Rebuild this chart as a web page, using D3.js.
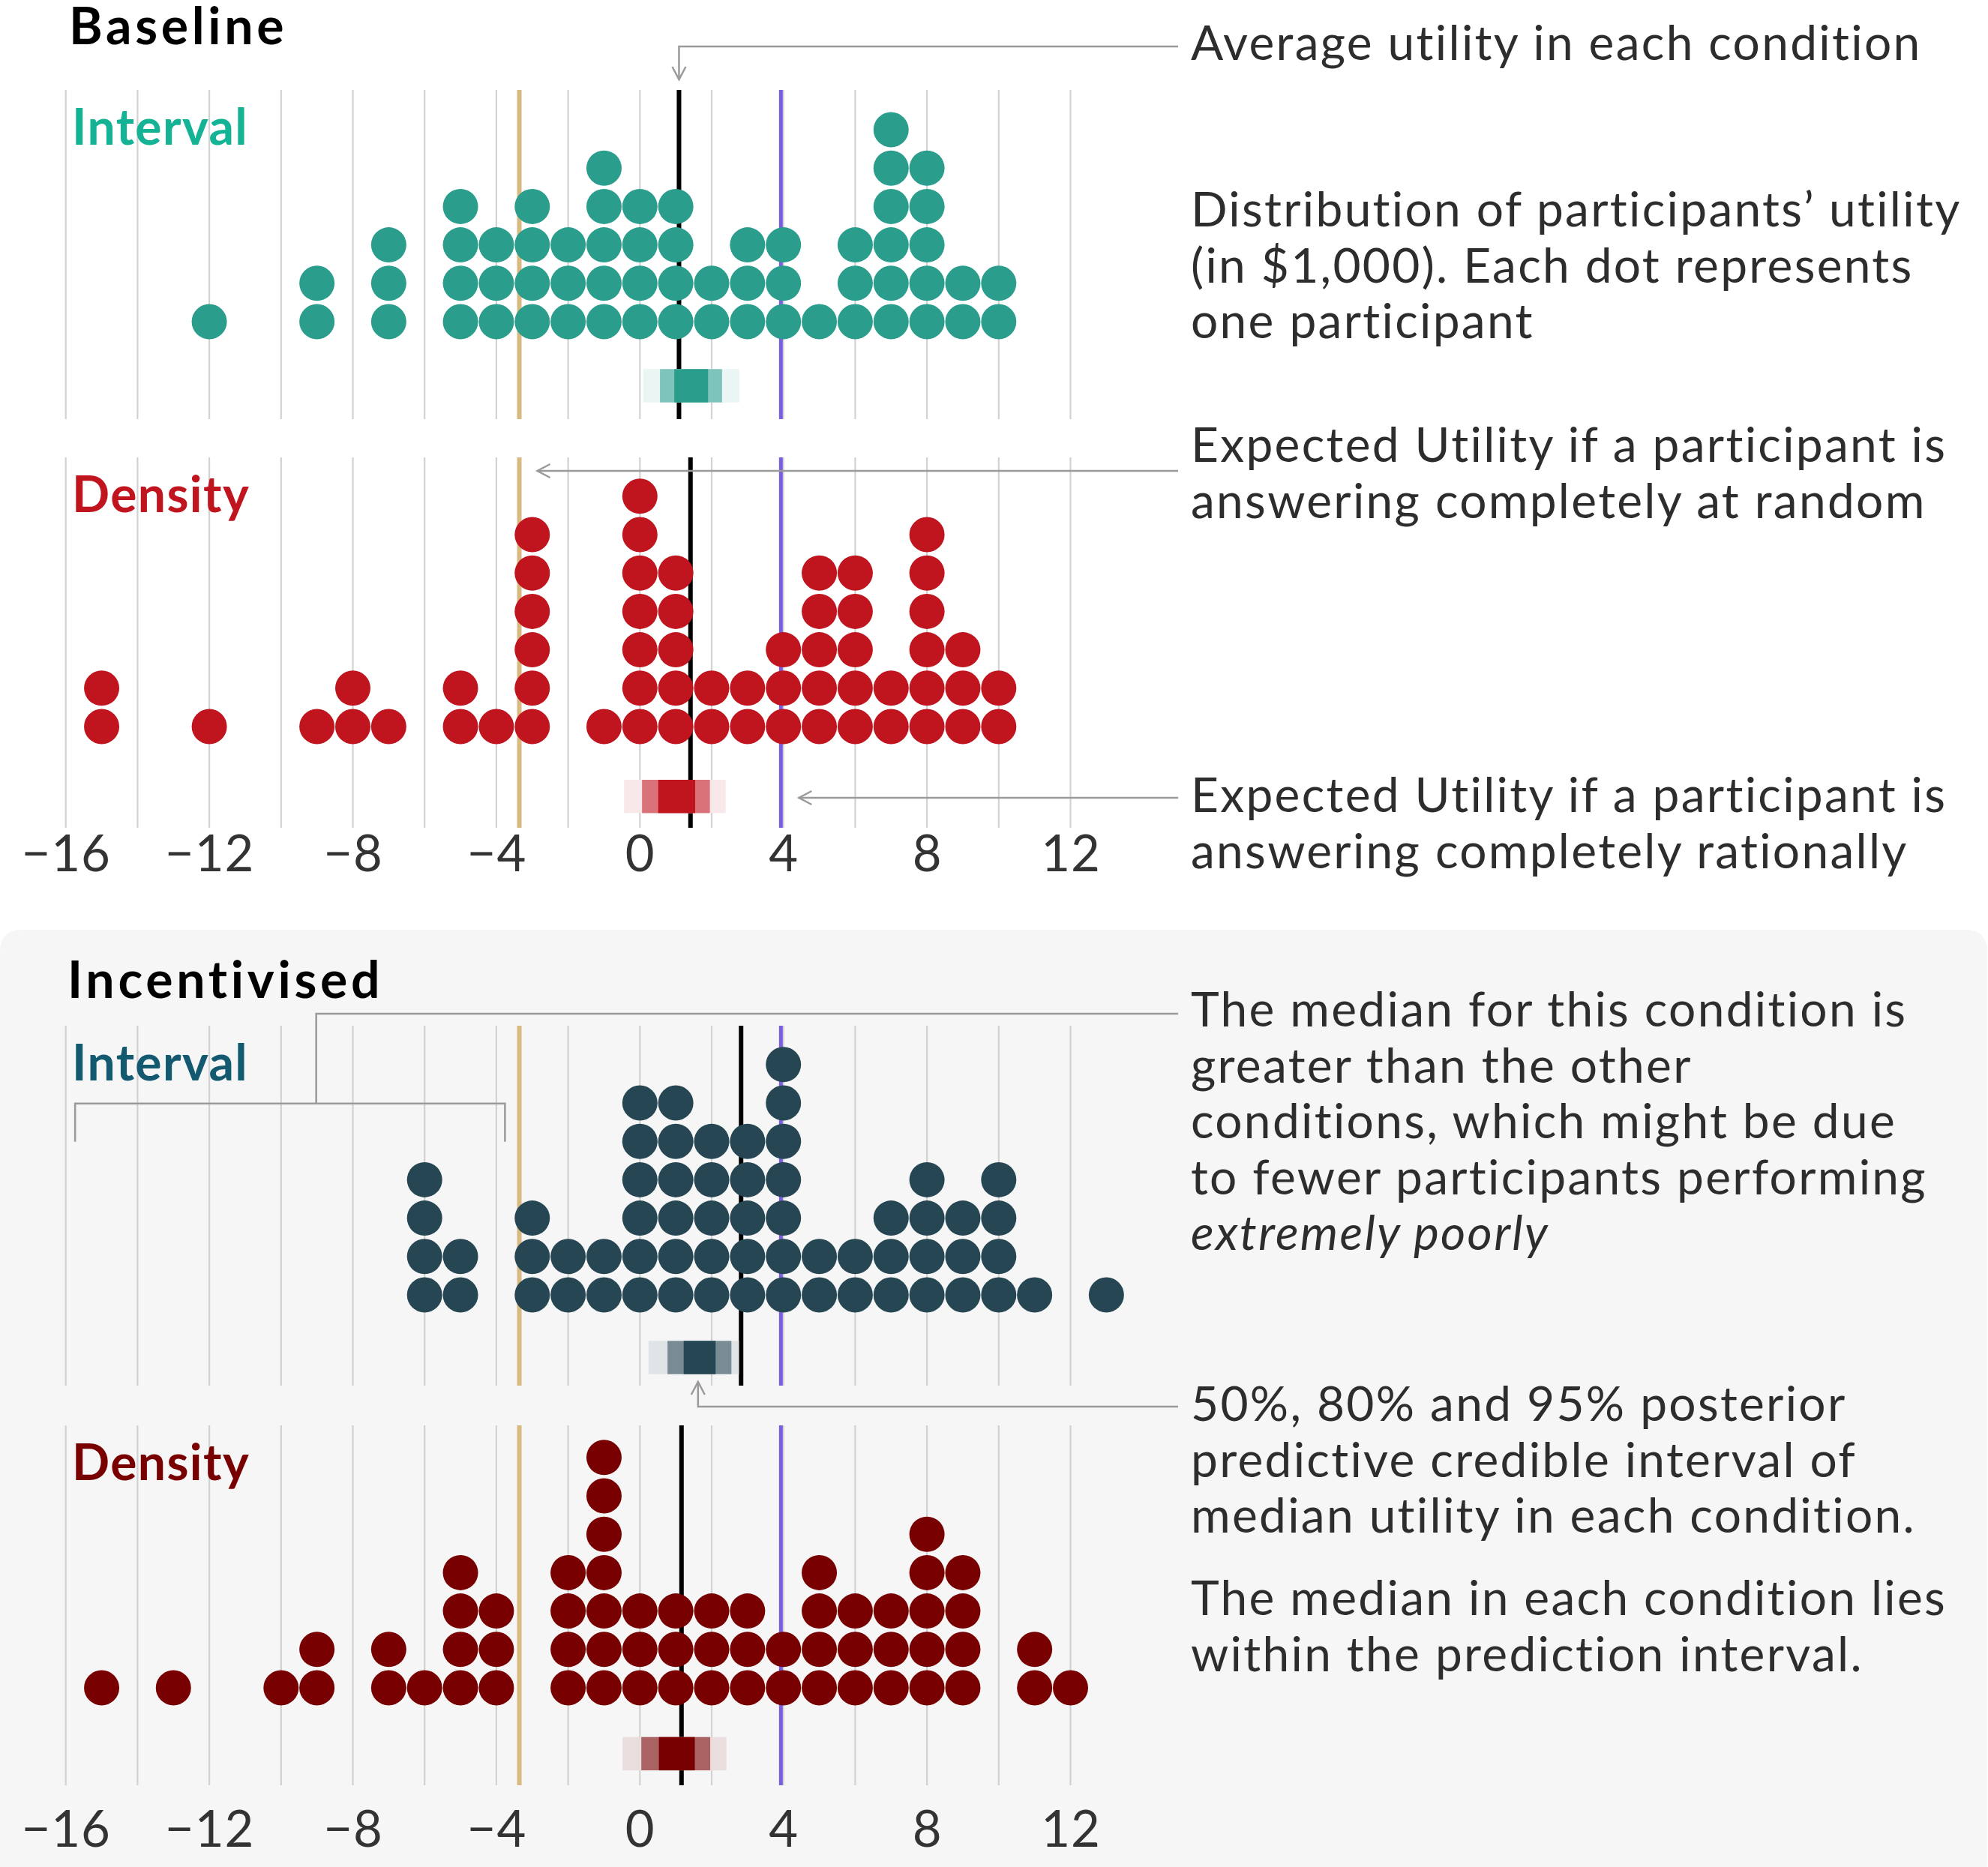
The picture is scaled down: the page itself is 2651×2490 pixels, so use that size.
<!DOCTYPE html>
<html>
<head>
<meta charset="utf-8">
<script src="https://cdn.jsdelivr.net/npm/d3@7"></script>
<style>
  body { margin: 0; background: #fff; }
  text { font-family: Lato, "Noto Sans", sans-serif; }
</style>
</head>
<body>
<svg id="chart" width="2651" height="2490"></svg>
<script>
// utility (in $1,000) -> number of participants
var baselineInterval = [[-12,1],[-9,2],[-7,3],[-5,4],[-4,3],[-3,4],[-2,3],[-1,5],[0,4],[1,4],[2,2],[3,3],[4,3],[5,1],[6,3],[7,6],[8,5],[9,2],[10,2]];
var baselineDensity = [[-15,2],[-12,1],[-9,1],[-8,2],[-7,1],[-5,2],[-4,1],[-3,6],[-1,1],[0,7],[1,5],[2,2],[3,2],[4,3],[5,5],[6,5],[7,2],[8,6],[9,3],[10,2]];
var incentivisedInterval = [[-6,4],[-5,2],[-3,3],[-2,2],[-1,2],[0,6],[1,6],[2,5],[3,5],[4,7],[5,2],[6,2],[7,3],[8,4],[9,3],[10,4],[11,1],[13,1]];
var incentivisedDensity = [[-15,1],[-13,1],[-10,1],[-9,2],[-7,2],[-6,1],[-5,4],[-4,3],[-2,4],[-1,7],[0,3],[1,3],[2,3],[3,3],[4,2],[5,4],[6,3],[7,3],[8,5],[9,4],[11,2],[12,1]];

// average utility per condition: BI, BD, II, ID
var means = [1.09, 1.41, 2.82, 1.16];
// 95%, 80%, 50% intervals of the median, per condition
var intervals = [
  [[0.09, 2.77], [0.56, 2.29], [0.96, 1.90]],
  [[-0.44, 2.39], [0.06, 1.95], [0.51, 1.54]],
  [[0.24, 2.76], [0.77, 2.55], [1.22, 2.11]],
  [[-0.48, 2.41], [0.04, 1.96], [0.53, 1.53]]
];
var randomUtility = -3.36, rationalUtility = 3.93;

var tickValues = [-16, -12, -8, -4, 0, 4, 8, 12];
var gridValues = d3.range(-16, 13, 2);

var svg = d3.select("#chart");

var x = d3.scaleLinear().domain([-16, 12]).range([87.7, 1427.5]);
var r = 23.5, rowStep = 51.2;

// incentivised background card
svg.append("rect")
    .attr("x", 0).attr("y", 1240)
    .attr("width", 2650).attr("height", 1300)
    .attr("rx", 26)
    .attr("fill", "#f6f6f6");

// titles
svg.append("text").attr("x", 92).attr("y", 59)
    .attr("font-size", 68).attr("font-weight", 700).attr("fill", "#000")
    .attr("letter-spacing", 4.7)
    .text("Baseline");
svg.append("text").attr("x", 90).attr("y", 1331)
    .attr("font-size", 68).attr("font-weight", 700).attr("fill", "#000")
    .attr("letter-spacing", 4.7)
    .text("Incentivised");

var panels = [
  {label: "Interval", data: baselineInterval, color: "#2a9d8c", labelColor: "#14b396", bg: "#ffffff", top: 120, bottom: 559, row0: 429, barTop: 492.3},
  {label: "Density", data: baselineDensity, color: "#c0141f", labelColor: "#c0141f", bg: "#ffffff", top: 610, bottom: 1104, row0: 969, barTop: 1040},
  {label: "Interval", data: incentivisedInterval, color: "#264653", labelColor: "#135a70", bg: "#f6f6f6", top: 1368, bottom: 1848, row0: 1727, barTop: 1788.3},
  {label: "Density", data: incentivisedDensity, color: "#780000", labelColor: "#780000", bg: "#f6f6f6", top: 1901, bottom: 2381, row0: 2251, barTop: 2316.7}
];

var shades = [0.1, 0.6, 1];

panels.forEach(function(p, i) {
  var g = svg.append("g").attr("class", "panel");
  var y = d3.scaleLinear().domain([0, 1]).range([p.row0, p.row0 - rowStep]);

  g.selectAll(".grid")
    .data(gridValues)
    .enter().append("line")
      .attr("class", "grid")
      .attr("x1", function(d) { return x(d); })
      .attr("x2", function(d) { return x(d); })
      .attr("y1", p.top).attr("y2", p.bottom)
      .attr("stroke", "#d2d2d2")
      .attr("stroke-width", 2.2);

  g.append("line")
      .attr("x1", x(randomUtility)).attr("x2", x(randomUtility))
      .attr("y1", p.top).attr("y2", p.bottom)
      .attr("stroke", "#d8b982").attr("stroke-width", 6);

  g.append("line")
      .attr("x1", x(rationalUtility)).attr("x2", x(rationalUtility))
      .attr("y1", p.top).attr("y2", p.bottom)
      .attr("stroke", "#7a5ee0").attr("stroke-width", 5);

  g.append("line")
      .attr("x1", x(means[i])).attr("x2", x(means[i]))
      .attr("y1", p.top).attr("y2", p.bottom)
      .attr("stroke", "#000").attr("stroke-width", 6);

  // one dot per participant, stacked
  var dots = [];
  p.data.forEach(function(d) {
    for (var k = 0; k < d[1]; k++) dots.push({v: d[0], k: k});
  });
  g.selectAll(".dot")
    .data(dots)
    .enter().append("circle")
      .attr("class", "dot")
      .attr("cx", function(d) { return x(d.v); })
      .attr("cy", function(d) { return y(d.k); })
      .attr("r", r)
      .attr("fill", p.color);

  // credible intervals
  g.selectAll(".ci")
    .data(intervals[i])
    .enter().append("rect")
      .attr("class", "ci")
      .attr("x", function(d) { return x(d[0]); })
      .attr("width", function(d) { return x(d[1]) - x(d[0]); })
      .attr("y", p.barTop)
      .attr("height", 44.4)
      .attr("fill", function(d, j) { return d3.interpolateRgb(p.bg, p.color)(shades[j]); });

  g.append("text")
      .attr("x", 96).attr("y", p.top + 73)
      .attr("font-size", 66).attr("font-weight", 700)
      .attr("letter-spacing", 1.4)
      .attr("fill", p.labelColor)
      .text(p.label);
});

// axes under the density panels
[1162, 2463].forEach(function(yy) {
  var ax = svg.append("g")
      .attr("transform", "translate(0," + yy + ")")
      .call(d3.axisBottom(x).tickValues(tickValues).tickSize(0));
  ax.select(".domain").remove();
  ax.selectAll("text")
      .attr("y", 0).attr("dy", null)
      .attr("font-family", "Lato, 'Noto Sans', sans-serif")
      .attr("font-size", 67)
      .attr("letter-spacing", 1)
      .attr("fill", "#333");
});

// annotations
var lead = svg.append("g")
    .attr("fill", "none")
    .attr("stroke", "#9a9a9a")
    .attr("stroke-width", 2.5);

var tx = 1571;
function chevron(ax, ay, dir) {
  var l = 17, w = 9;
  if (dir === "down") return "M" + (ax - w) + "," + (ay - l) + "L" + ax + "," + ay + "L" + (ax + w) + "," + (ay - l);
  if (dir === "up") return "M" + (ax - w) + "," + (ay + l) + "L" + ax + "," + ay + "L" + (ax + w) + "," + (ay + l);
  return "M" + (ax + l) + "," + (ay - w) + "L" + ax + "," + ay + "L" + (ax + l) + "," + (ay + w);
}

lead.append("path").attr("d", "M" + tx + ",62H" + x(means[0]) + "V106");
lead.append("path").attr("d", chevron(x(means[0]), 106, "down"));

lead.append("path").attr("d", "M" + tx + ",628H" + (x(randomUtility) + 24));
lead.append("path").attr("d", chevron(x(randomUtility) + 24, 628, "left"));

lead.append("path").attr("d", "M" + tx + ",1064H" + (x(rationalUtility) + 24));
lead.append("path").attr("d", chevron(x(rationalUtility) + 24, 1064, "left"));

lead.append("path").attr("d", "M" + tx + ",1352H" + x(-9.02) + "V1471.7");
lead.append("path").attr("d", "M" + x(-15.74) + ",1522.7V1471.7H" + x(-3.76) + "V1522.7");

var ciMid = 1.62;
lead.append("path").attr("d", "M" + tx + ",1876H" + x(ciMid) + "V1843");
lead.append("path").attr("d", chevron(x(ciMid), 1843, "up"));

var notes = [
  {y: 80, lines: ["Average utility in each condition"]},
  {y: 302, lines: ["Distribution of participants\u2019 utility", "(in $1,000). Each dot represents", "one participant"]},
  {y: 616, lines: ["Expected Utility if a participant is", "answering completely at random"]},
  {y: 1083, lines: ["Expected Utility if a participant is", "answering completely rationally"]},
  {y: 1369, lines: ["The median for this condition is", "greater than the other", "conditions, which might be due", "to fewer participants performing", "*extremely poorly"]},
  {y: 1895, lines: ["50%, 80% and 95% posterior", "predictive credible interval of", "median utility in each condition."]},
  {y: 2154, lines: ["The median in each condition lies", "within the prediction interval."]}
];

notes.forEach(function(n) {
  n.lines.forEach(function(line, k) {
    var italic = line.charAt(0) === "*";
    svg.append("text")
        .attr("x", 1588)
        .attr("y", n.y + k * 74.5)
        .attr("font-size", 64)
        .attr("letter-spacing", 2.3)
        .attr("font-style", italic ? "italic" : null)
        .attr("fill", "#2d2d2d")
        .text(italic ? line.slice(1) : line);
  });
});
</script>
</body>
</html>
